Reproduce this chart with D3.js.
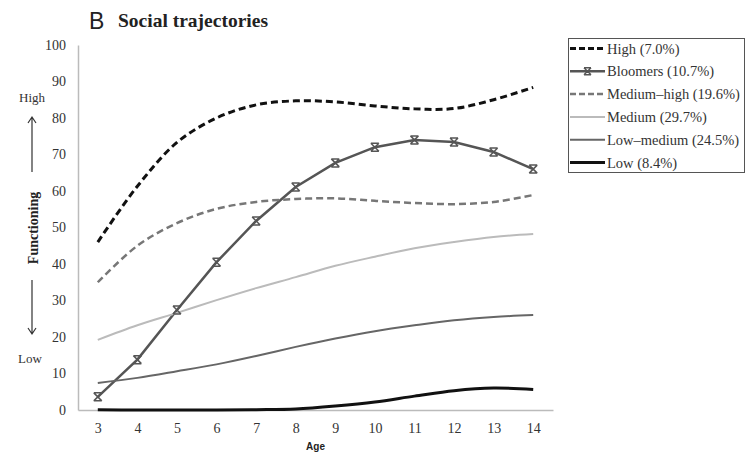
<!DOCTYPE html>
<html>
<head>
<meta charset="utf-8">
<script src="https://cdn.jsdelivr.net/npm/d3@7"></script>
<style>
  body { margin: 0; background: #fff; }
</style>
</head>
<body>
<div class="chart"></div>
<script>
const ages = [3, 4, 5, 6, 7, 8, 9, 10, 11, 12, 13, 14];
const yTicks = [0, 10, 20, 30, 40, 50, 60, 70, 80, 90, 100];

const high = [46, 61.3, 73.3, 80, 83.6, 84.7, 84.4, 83.3, 82.5, 82.6, 85, 88.4];
const bloomers = [3.6, 13.8, 27.4, 40.5, 51.8, 61.1, 67.7, 72, 74, 73.4, 70.7, 66];
const mediumHigh = [35, 45, 51.2, 55.1, 57, 57.8, 58, 57.3, 56.7, 56.4, 57, 58.9];
const medium = [19.2, 23.2, 26.6, 30.1, 33.4, 36.4, 39.5, 42, 44.3, 46, 47.4, 48.2];
const lowMedium = [7.4, 8.8, 10.6, 12.5, 14.8, 17.3, 19.6, 21.6, 23.2, 24.6, 25.5, 26];
const low = [0.1, 0, 0, 0, 0.1, 0.3, 1.1, 2.2, 3.8, 5.3, 6, 5.6];

const seriesNames = ['High (7.0%)', 'Bloomers (10.7%)', 'Medium\u2013high (19.6%)',
  'Medium (29.7%)', 'Low\u2013medium (24.5%)', 'Low (8.4%)'];

const serif = '"Liberation Serif", "Times New Roman", serif';
const sans = '"Liberation Sans", Arial, sans-serif';

const series = [
  { name: seriesNames[0], values: high, color: '#111', width: 3, dash: '7,4', smooth: true },
  { name: seriesNames[1], values: bloomers, color: '#555', width: 2.5, dash: null, smooth: false, marker: true },
  { name: seriesNames[2], values: mediumHigh, color: '#777', width: 2.5, dash: '7,4', smooth: true },
  { name: seriesNames[3], values: medium, color: '#bbb', width: 2, dash: null, smooth: true },
  { name: seriesNames[4], values: lowMedium, color: '#666', width: 2, dash: null, smooth: true },
  { name: seriesNames[5], values: low, color: '#111', width: 3, dash: null, smooth: true }
];

const chartWidth = 747;
const chartHeight = 455;
const margin = { left: 78, right: 194, top: 45, bottom: 45 };

const svg = d3.select('.chart')
  .append('svg')
  .attr('width', chartWidth)
  .attr('height', chartHeight)
  .style('font-family', serif);

const xScale = d3.scalePoint()
  .domain(ages)
  .range([margin.left, chartWidth - margin.right])
  .padding(0.5);

const yScale = d3.scaleLinear()
  .domain([0, 100])
  .range([chartHeight - margin.bottom, margin.top]);

// axes
const xAxis = svg.append('g')
  .attr('transform', `translate(0, ${yScale(0)})`)
  .call(d3.axisBottom(xScale).tickSize(0).tickSizeOuter(0).tickPadding(13));
xAxis.select('.domain').attr('stroke', '#bbb').attr('stroke-width', 1.5);
xAxis.selectAll('text')
  .style('font-family', serif)
  .style('font-size', '14px')
  .attr('fill', '#333');

const yAxis = svg.append('g')
  .attr('transform', `translate(${margin.left}, 0)`)
  .call(d3.axisLeft(yScale).tickValues(yTicks).tickSize(0).tickSizeOuter(0).tickPadding(12));
yAxis.select('.domain').attr('stroke', '#bbb').attr('stroke-width', 1.5);
yAxis.selectAll('text')
  .style('font-family', serif)
  .style('font-size', '14px')
  .attr('fill', '#333');

// lines
const lineSmooth = d3.line()
  .x((d, i) => xScale(ages[i]))
  .y(d => yScale(d))
  .curve(d3.curveCatmullRom.alpha(0.5));
const lineStraight = d3.line()
  .x((d, i) => xScale(ages[i]))
  .y(d => yScale(d));

series.forEach(s => {
  svg.append('path')
    .attr('d', (s.smooth ? lineSmooth : lineStraight)(s.values))
    .attr('fill', 'none')
    .attr('stroke', s.color)
    .attr('stroke-width', s.width)
    .attr('stroke-dasharray', s.dash);
});

const starMarker = (g, x, y, r, color) => {
  g.append('path')
    .attr('d', `M${x - r},${y - r}L${x + r},${y + r}M${x - r},${y + r}L${x + r},${y - r}M${x - r},${y - r}L${x + r},${y - r}M${x - r},${y + r}L${x + r},${y + r}`)
    .attr('stroke', color)
    .attr('stroke-width', 1.5)
    .attr('fill', 'none');
};

const markers = svg.append('g');
bloomers.forEach((v, i) => starMarker(markers, xScale(ages[i]), yScale(v), 4, '#555'));

// legend
const legend = svg.append('g');
legend.append('rect')
  .attr('x', 568.5)
  .attr('y', 38.5)
  .attr('width', 176)
  .attr('height', 134)
  .attr('fill', '#fff')
  .attr('stroke', '#555')
  .attr('stroke-width', 1);

series.forEach((s, i) => {
  const y = 48.5 + i * 22.8;
  legend.append('line')
    .attr('x1', 570).attr('x2', 605)
    .attr('y1', y).attr('y2', y)
    .attr('stroke', s.color)
    .attr('stroke-width', s.width)
    .attr('stroke-dasharray', s.dash ? '6,3' : null);
  if (s.marker) starMarker(legend, 587.5, y, 3.5, s.color);
  legend.append('text')
    .attr('x', 607)
    .attr('y', y + 5)
    .style('font-size', '14.5px')
    .attr('fill', '#333')
    .text(s.name);
});

// titles
svg.append('text')
  .attr('x', 89).attr('y', 29)
  .style('font-family', sans)
  .style('font-size', '23px')
  .attr('fill', '#222')
  .text('B');
svg.append('text')
  .attr('x', 118).attr('y', 27)
  .style('font-size', '19.5px')
  .style('font-weight', 'bold')
  .attr('fill', '#222')
  .text('Social trajectories');

svg.append('text')
  .attr('x', (margin.left + chartWidth - margin.right) / 2)
  .attr('y', 450)
  .attr('text-anchor', 'middle')
  .style('font-family', sans)
  .style('font-size', '10px')
  .style('font-weight', 'bold')
  .attr('fill', '#222')
  .text('Age');

svg.append('text')
  .attr('transform', 'translate(38, 228) rotate(-90)')
  .attr('text-anchor', 'middle')
  .style('font-size', '14px')
  .style('font-weight', 'bold')
  .attr('fill', '#222')
  .text('Functioning');

svg.append('text')
  .attr('x', 32).attr('y', 102)
  .attr('text-anchor', 'middle')
  .style('font-size', '13px')
  .attr('fill', '#333')
  .text('High');
svg.append('text')
  .attr('x', 30).attr('y', 363)
  .attr('text-anchor', 'middle')
  .style('font-size', '13px')
  .attr('fill', '#333')
  .text('Low');

// arrows
const arrows = svg.append('g')
  .attr('stroke', '#333')
  .attr('stroke-width', 1.2)
  .attr('fill', 'none');
arrows.append('path').attr('d', 'M32,172L32,117M28,123L32,117L36,123');
arrows.append('path').attr('d', 'M32,280L32,334M28,328L32,334L36,328');
</script>
</body>
</html>
